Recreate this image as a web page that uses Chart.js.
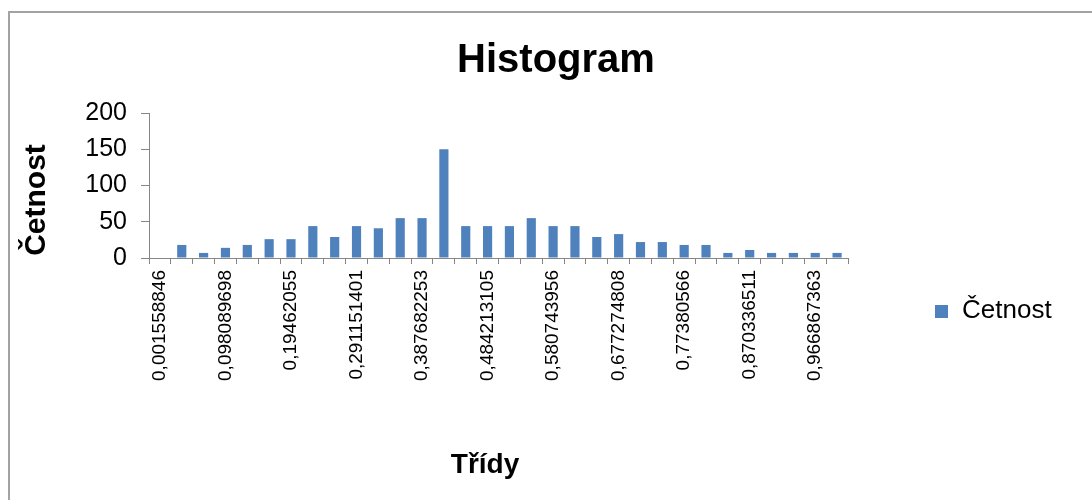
<!DOCTYPE html>
<html lang="cs">
<head>
  <meta charset="UTF-8" />
  <title>Histogram</title>
  <script src="https://cdn.jsdelivr.net/npm/chart.js"></script>
  <style>
    body {
      margin: 0;
      background: #fff;
      font-family: 'Liberation Sans', Arial, sans-serif;
    }
    #frame {
      position: absolute;
      left: 8px;
      top: 11px;
      width: 1200px;
      height: 600px;
      border-top: 2px solid #a3a3a3;
      border-left: 2px solid #a3a3a3;
    }
    #wrap {
      position: absolute;
      left: 0;
      top: 0;
      width: 1092px;
      height: 500px;
    }
  </style>
</head>
<body>
  <div id="frame"></div>
  <div id="wrap"><canvas id="histChart"></canvas></div>

  <script>
    // třídy (horní meze) a četnosti
    const classes = [
      '0,001558846', '0,033735797', '0,065912747', '0,098089698',
      '0,130266649', '0,162443599', '0,19462055', '0,226797501',
      '0,258974452', '0,291151401', '0,323328353', '0,355505303',
      '0,387682253', '0,419859204', '0,452036155', '0,484213105',
      '0,516390056', '0,548567007', '0,580743956', '0,612920907',
      '0,645097858', '0,677274808', '0,709451759', '0,74162871',
      '0,77380566', '0,805982611', '0,838159562', '0,870336511',
      '0,902513462', '0,934690413', '0,966867363', '0,999044314'
    ];
    const counts = [
      0, 18, 7, 14, 18, 26, 26, 44,
      29, 44, 41, 55, 55, 150, 44, 44,
      44, 55, 44, 44, 29, 33, 22, 22,
      18, 18, 7, 11, 7, 7, 7, 7
    ];
    const yTicks = [0, 50, 100, 150, 200];

    const seriesName = 'Četnost';
    const barColor = '#4f81bd';
    const axisColor = '#868686';
    const FONT = "'Liberation Sans', Arial, sans-serif";

    // titulky a legenda kreslené ručně, aby seděly pozice
    const labelsPlugin = {
      id: 'labelsPlugin',
      afterDraw(chart) {
        const ctx = chart.ctx;
        ctx.save();
        ctx.fillStyle = '#000';

        ctx.font = 'bold 40px ' + FONT;
        ctx.textAlign = 'center';
        ctx.textBaseline = 'alphabetic';
        ctx.fillText('Histogram', 556, 72);

        ctx.font = 'bold 28px ' + FONT;
        ctx.fillText('Třídy', 485, 473);

        ctx.save();
        ctx.translate(45, 200);
        ctx.rotate(-Math.PI / 2);
        ctx.font = 'bold 30px ' + FONT;
        ctx.fillText(seriesName, 0, 0);
        ctx.restore();

        ctx.fillStyle = barColor;
        ctx.fillRect(935, 305, 13, 13);
        ctx.fillStyle = '#000';
        ctx.textAlign = 'left';
        ctx.font = '26px ' + FONT;
        ctx.fillText(seriesName, 962, 318);
        ctx.restore();
      }
    };

    const ctx = document.getElementById('histChart').getContext('2d');
    new Chart(ctx, {
      type: 'bar',
      data: {
        labels: classes,
        datasets: [{
          label: seriesName,
          data: counts,
          backgroundColor: barColor,
          borderWidth: 0,
          categoryPercentage: 1.0,
          barPercentage: 0.42
        }]
      },
      options: {
        responsive: true,
        maintainAspectRatio: false,
        animation: false,
        layout: { padding: { left: 0, right: 244, top: 113, bottom: 0 } },
        plugins: {
          legend: { display: false },
          title: { display: false },
          tooltip: { enabled: false }
        },
        scales: {
          x: {
            afterFit: s => { s.height = 242; },
            grid: {
              display: true,
              drawOnChartArea: false,
              drawTicks: true,
              tickLength: 6,
              color: axisColor,
              offset: true
            },
            border: { color: axisColor, width: 1 },
            ticks: {
              autoSkip: false,
              maxRotation: 90,
              minRotation: 90,
              padding: 6,
              color: '#000',
              font: { family: FONT, size: 19 },
              callback: (v, i) => (i % 3 === 0 ? classes[i] : '')
            }
          },
          y: {
            min: yTicks[0],
            max: yTicks[yTicks.length - 1],
            afterFit: s => { s.width = 149; },
            afterBuildTicks: s => { s.ticks = yTicks.map(v => ({ value: v })); },
            grid: {
              drawOnChartArea: false,
              drawTicks: true,
              tickLength: 8,
              color: axisColor
            },
            border: { color: axisColor, width: 1 },
            ticks: {
              padding: 14,
              color: '#000',
              font: { family: FONT, size: 25 }
            }
          }
        }
      },
      plugins: [labelsPlugin]
    });
  </script>
</body>
</html>
